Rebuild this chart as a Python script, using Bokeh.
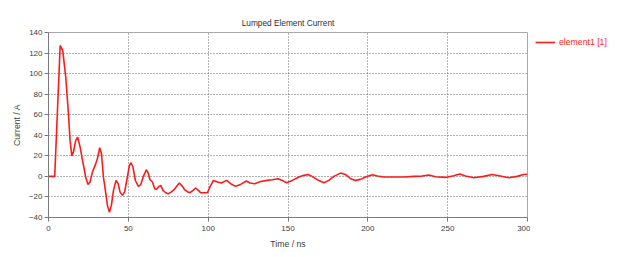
from bokeh.plotting import figure
from bokeh.layouts import row
from bokeh.models import Range1d, FixedTicker, Legend, LegendItem
from bokeh.embed import file_html
from bokeh.resources import INLINE

# ---- data ----
time_ns = [0, 3.9, 5.5, 7.3, 8.9, 10.8, 12.5, 13.5, 14.6, 15.6, 17.1, 18.3, 19.8, 21.3,
           23.3, 24.7, 26.0, 27.5, 29.2, 30.6, 32.1, 33.2, 34.4, 35.9, 36.9, 38.2, 39.4,
           40.7, 42.3, 43.6, 44.8, 46.3, 47.7, 49.4, 50.7, 51.7, 52.9, 54.4, 56.3, 57.8,
           59.4, 61.3, 62.6, 63.5, 65.1, 66.5, 67.7, 69.2, 70.3, 71.7, 73.4, 75.0, 77.0,
           78.6, 80.7, 82.0, 83.9, 85.2, 87.0, 88.6, 90.5, 92.2, 93.9, 95.3, 99.5, 101.6,
           103.3, 105.8, 108.3, 111.6, 114.1, 117.2, 120.3, 123.9, 126.2, 129.1, 132.9,
           137.0, 140.2, 143.7, 146.4, 149.1, 152.7, 156.8, 159.9, 162.5, 165.2, 168.3,
           172.5, 175.6, 178.7, 182.9, 186.0, 189.2, 192.3, 195.4, 198.6, 202.8, 205.9,
           210.0, 216.3, 222.5, 228.8, 234.0, 238.2, 242.4, 248.6, 253.8, 257.6, 261.2,
           266.3, 272.6, 277.8, 283.0, 288.2, 293.5, 297.6, 300.0]
current_a = [0, 0, 60, 127.4, 122.6, 96.6, 61, 35, 20, 23.7, 35, 38.2, 28.5, 15.6,
             -0.6, -8, -5.5, 4.2, 10.7, 17.2, 27.9, 22, -0.6, -16.8, -28.2, -35, -28,
             -13.6, -3.9, -7.1, -15.3, -18.5, -15, -0.6, 10.7, 13.3, 9.1, -4, -9.7, -8,
             0, 6.5, 2.6, -3, -5.5, -12, -12.6, -9.7, -8.8, -13.6, -15.9, -17, -15,
             -12.9, -8.8, -6.5, -9.7, -12.9, -14.9, -15.9, -13.6, -11.3, -13.6, -15.9, -15.9, -8.8,
             -3.9, -5.5, -6.5, -3.9, -7.1, -9.7, -7.8, -4.5, -6.5, -7.1, -4.9,
             -3.9, -3.2, -2.3, -3.9, -6.2, -3.9, -0.6, 1.0, 1.9, 0.0, -3.2,
             -6.2, -3.9, 0.0, 3.2, 1.9, -2.3, -3.9, -2.9, -0.6, 1.6, 0.3,
             -0.6, -0.6, -0.6, 0.0, 0.3, 1.3, -0.3, -1.0, 0.6, 2.3, 0.3,
             -1.3, 0.0, 1.9, 0.3, -1.3, 0.0, 1.9, 2.0]
x_ticks = [0, 50, 100, 150, 200, 250, 300]
y_ticks = [-40, -20, 0, 20, 40, 60, 80, 100, 120, 140]
title_text = "Lumped Element Current"
x_label = "Time / ns"
y_label = "Current / A"
series_name = "element1 [1]"

FONT = "Liberation Sans"
RED = "#ff1a1a"

p = figure(width=530, height=257, output_backend="svg", toolbar_location=None,
           x_range=Range1d(0, 300), y_range=Range1d(-40, 140),
           min_border_left=48, min_border_right=3, min_border_top=32,
           min_border_bottom=40, title=title_text)
p.background_fill_color = "white"
p.border_fill_color = "white"
p.outline_line_color = "#a8a8a8"
p.outline_line_width = 1

p.title.align = "center"
p.title.text_font = FONT
p.title.text_font_size = "8.3px"
p.title.text_font_style = "normal"
p.title.text_color = "#303030"
p.title.standoff = 9

r = p.line(time_ns, current_a, line_color=RED, line_width=1.6)

for ax in (p.xaxis[0], p.yaxis[0]):
    ax.axis_line_color = "#7a7a7a"
    ax.major_tick_line_color = "#7a7a7a"
    ax.minor_tick_line_color = None
    ax.major_tick_in = 0
    ax.major_tick_out = 4
    ax.major_label_text_font = FONT
    ax.major_label_text_font_size = "8px"
    ax.major_label_text_color = "#404040"
    ax.axis_label_text_font = FONT
    ax.axis_label_text_font_size = "8.7px"
    ax.axis_label_text_font_style = "normal"
    ax.axis_label_text_color = "#404040"

p.xaxis.ticker = FixedTicker(ticks=x_ticks)
p.yaxis.ticker = FixedTicker(ticks=y_ticks)
p.xaxis.axis_label = x_label
p.yaxis.axis_label = y_label
p.xaxis.major_label_standoff = 4
p.xaxis.axis_label_standoff = 5
p.yaxis.major_label_standoff = 2
p.yaxis.axis_label_standoff = 4

p.xgrid.ticker = FixedTicker(ticks=x_ticks[1:-1])
p.ygrid.ticker = FixedTicker(ticks=y_ticks[1:-1])
for g in (p.xgrid[0], p.ygrid[0]):
    g.grid_line_color = "#686868"
    g.grid_line_dash = "1 2"
    g.grid_line_width = 1

# legend panel to the right of the plot (its frame is aligned with the main frame);
# the series is drawn there outside the visible range so that only the legend shows
lp = figure(width=90, height=257, output_backend="svg", toolbar_location=None,
            x_range=Range1d(400, 401), y_range=Range1d(-40, 140),
            x_axis_type=None, y_axis_type=None,
            min_border_left=0, min_border_right=0, min_border_top=0, min_border_bottom=0)
lp.outline_line_color = None
lp.background_fill_color = "white"
lp.border_fill_color = "white"
lp.xgrid.visible = False
lp.ygrid.visible = False
lr = lp.line(time_ns, current_a, line_color=RED, line_width=1.6)

legend = Legend(items=[LegendItem(label=series_name, renderers=[lr])],
                location="top_left", padding=0, margin=5, spacing=0,
                glyph_width=20, glyph_height=8, label_height=8, label_standoff=4,
                label_text_font=FONT, label_text_font_size="8.7px",
                label_text_color=RED, border_line_color=None,
                background_fill_alpha=0)
lp.add_layout(legend)

layout = row(p, lp, spacing=0)
open("out.html", "w").write(file_html(layout, INLINE))
